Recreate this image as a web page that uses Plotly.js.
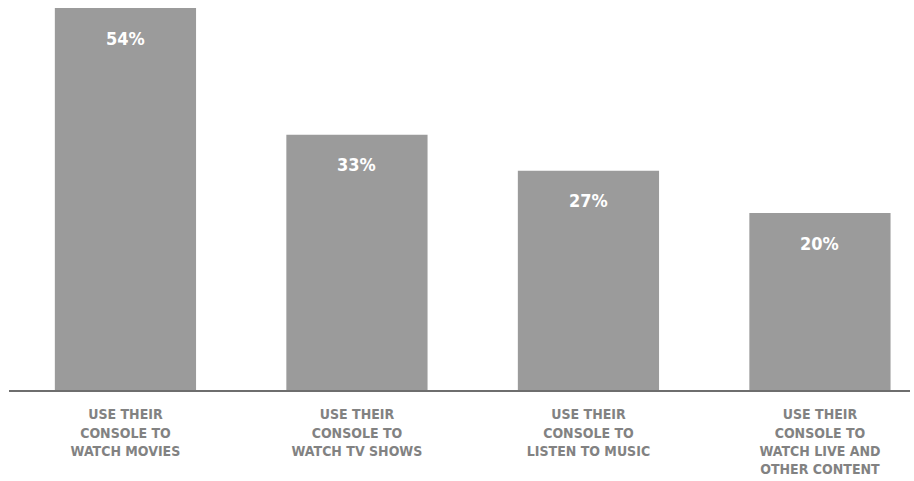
<!DOCTYPE html>
<html>
<head>
<meta charset="utf-8">
<script src="https://cdn.plot.ly/plotly-3.0.1.min.js"></script>
<style>
html,body{margin:0;padding:0;background:#fff;}
#chart{width:914px;height:481px;}
</style>
</head>
<body>
<div id="chart"></div>
<script>
const categories = ["watch movies", "watch TV shows", "listen to music", "watch live and other content"];
const tickLabels = [
  "USE THEIR<br>CONSOLE TO<br>WATCH MOVIES",
  "USE THEIR<br>CONSOLE TO<br>WATCH TV SHOWS",
  "USE THEIR<br>CONSOLE TO<br>LISTEN TO MUSIC",
  "USE THEIR<br>CONSOLE TO<br>WATCH LIVE AND<br>OTHER CONTENT"
];
const values = [54, 33, 27, 20];
const valueLabels = ["54%", "33%", "27%", "20%"];

const AXIS_BASE = -9.35;
const FONT = "'Liberation Sans Narrow', 'DejaVu Sans Condensed', 'Arial Narrow', sans-serif";

const trace = {
  type: "bar",
  x: categories,
  y: values.map(v => v - AXIS_BASE),
  base: AXIS_BASE,
  marker: {color: "#9b9b9b"},
  width: 0.61,
  hoverinfo: "skip"
};

const annotations = categories.map((c, i) => ({
  x: c, y: values[i], xref: "x", yref: "y",
  text: "<b>" + valueLabels[i] + "</b>",
  showarrow: false, yanchor: "middle", yshift: -30,
  font: {family: FONT, size: 18, color: "#ffffff"}
}));

const layout = {
  width: 914, height: 481,
  margin: {l: 9, r: 4, t: 0, b: 91},
  paper_bgcolor: "#ffffff", plot_bgcolor: "#ffffff",
  showlegend: false,
  xaxis: {
    type: "category",
    range: [-0.503, 3.389],
    tickvals: categories,
    ticktext: tickLabels.map(t => "<b>" + t + "</b>"),
    tickfont: {family: FONT, size: 14, color: "#828282"},
    showline: true, linecolor: "#6e6e6e", linewidth: 1.5,
    showgrid: false, zeroline: false,
    ticks: "outside", ticklen: 11, tickcolor: "rgba(0,0,0,0)",
    tickangle: 0
  },
  yaxis: {
    range: [AXIS_BASE, 55.33],
    visible: false, showgrid: false, zeroline: false
  },
  annotations: annotations
};

Plotly.newPlot("chart", [trace], layout, {displayModeBar: false, staticPlot: true});
</script>
</body>
</html>
